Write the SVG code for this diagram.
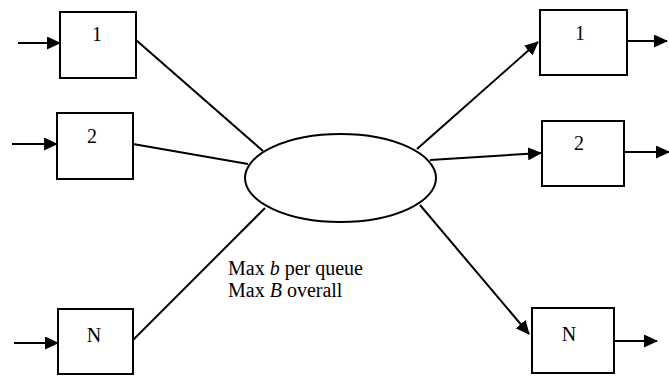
<svg xmlns="http://www.w3.org/2000/svg" width="669" height="378" viewBox="0 0 669 378">
<style>
.box{fill:#fff;stroke:#000;stroke-width:2}
.ln{stroke:#000;stroke-width:2;fill:none}
.lbl{font-family:"Liberation Serif","Times New Roman",serif;font-size:20px;text-anchor:middle}
.note{font-family:"Liberation Serif","Times New Roman",serif;font-size:20px}
</style>
<defs>
<marker id="ah" viewBox="0 0 14 13" refX="13" refY="6.5" markerWidth="14" markerHeight="13" orient="auto" markerUnits="userSpaceOnUse">
<path d="M0,0 L14,6.5 L0,13 z" fill="#000"/>
</marker>
</defs>
<g id="connectors">
<line class="ln" x1="18" y1="43" x2="60" y2="43" marker-end="url(#ah)"/>
<line class="ln" x1="12" y1="144" x2="57" y2="144" marker-end="url(#ah)"/>
<line class="ln" x1="14" y1="343" x2="58" y2="343" marker-end="url(#ah)"/>
<line class="ln" x1="136" y1="40" x2="263" y2="151"/>
<line class="ln" x1="133" y1="144" x2="248" y2="164"/>
<line class="ln" x1="133" y1="340" x2="265" y2="208"/>
<line class="ln" x1="417" y1="149" x2="538" y2="42" marker-end="url(#ah)"/>
<line class="ln" x1="430" y1="160" x2="541" y2="153" marker-end="url(#ah)"/>
<line class="ln" x1="420" y1="205" x2="529" y2="334" marker-end="url(#ah)"/>
<line class="ln" x1="627" y1="41" x2="667" y2="41" marker-end="url(#ah)"/>
<line class="ln" x1="624" y1="152" x2="669" y2="152" marker-end="url(#ah)"/>
<line class="ln" x1="614" y1="341" x2="657" y2="341" marker-end="url(#ah)"/>
</g>
<g id="inL1"><rect class="box" x="60" y="12" width="76" height="66"/><text class="lbl" x="97" y="41">1</text></g>
<g id="inL2"><rect class="box" x="57" y="113" width="76" height="66"/><text class="lbl" x="92" y="143">2</text></g>
<g id="inLN"><rect class="box" x="58" y="309" width="75" height="65"/><text class="lbl" x="94" y="342">N</text></g>
<g id="buffer"><ellipse class="box" cx="340.5" cy="178" rx="95.5" ry="44"/></g>
<g id="outR1"><rect class="box" x="540" y="10" width="87" height="65"/><text class="lbl" x="580" y="40">1</text></g>
<g id="outR2"><rect class="box" x="542" y="121" width="82" height="65"/><text class="lbl" x="579" y="150">2</text></g>
<g id="outRN"><rect class="box" x="532" y="308" width="82" height="65"/><text class="lbl" x="569" y="341">N</text></g>
<g id="note">
<text class="note" x="228" y="275">Max <tspan font-style="italic">b</tspan> per queue</text>
<text class="note" x="228" y="297">Max <tspan font-style="italic">B</tspan> overall</text>
</g>
</svg>
